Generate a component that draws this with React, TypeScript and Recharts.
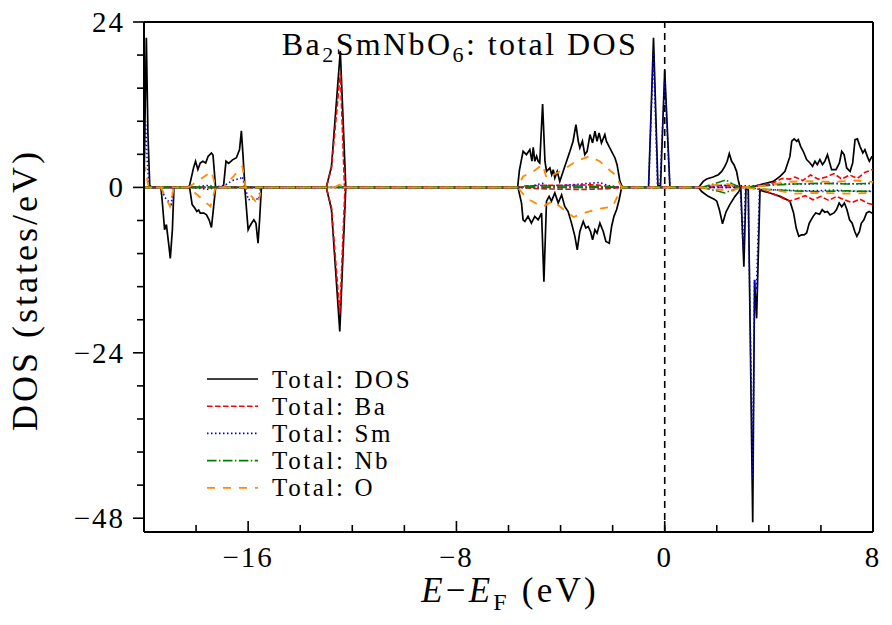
import React from "react";
import { LineChart, Line, XAxis, YAxis, ReferenceLine } from "recharts";

type Pt = [number, number];

// axis ticks
const xTicks = [-20, -18, -16, -14, -12, -10, -8, -6, -4, -2, 0, 2, 4, 6, 8];
const xMajor = [-16, -8, 0, 8];
const yTicks = [24, 19.2, 14.4, 9.6, 4.8, 0, -4.8, -9.6, -14.4, -19.2, -24, -28.8, -33.6, -38.4, -43.2, -48];
const yMajor = [24, 0, -24, -48];

// spin up / spin down DOS, [E - EF, states/eV]
const totalUp: Pt[] = [
  [-20, 0.5], [-19.96, 10], [-19.91, 21.7], [-19.85, 8], [-19.78, 0.3], [-19.7, 0],
  [-18.3, 0], [-18.25, 0.3], [-18.1, 2.8], [-18.02, 3.8], [-17.93, 2.6], [-17.84, 3.55], [-17.74, 3.8],
  [-17.63, 3.55], [-17.54, 4.5], [-17.41, 5.0], [-17.35, 4.7], [-17.25, 0],
  [-16.95, 0], [-16.85, 3.8], [-16.75, 3.5], [-16.6, 4.0], [-16.45, 4.3], [-16.33, 5.5], [-16.26, 8.2],
  [-16.2, 4.8], [-16.13, 0.5], [-16.08, 0],
  [-13.0, 0], [-12.8, 3.0], [-12.46, 19.8], [-12.25, 0],
  [-5.65, 0], [-5.58, 2.5], [-5.44, 5.24], [-5.31, 4.76], [-5.18, 5.48], [-5.1, 3.8], [-5.05, 5.82],
  [-4.99, 3.79], [-4.92, 4.52], [-4.86, 3.8], [-4.8, 3.55], [-4.69, 12.1], [-4.6, 3.8], [-4.54, 2.33],
  [-4.41, 2.82], [-4.34, 1.85], [-4.28, 2.57], [-4.22, 1.37], [-4.13, 2.33], [-4.03, 0.87], [-3.9, 2.33],
  [-3.77, 3.79], [-3.64, 5.24], [-3.52, 6.7], [-3.41, 9.1], [-3.32, 6.7], [-3.26, 5.73], [-3.16, 6.7],
  [-3.07, 4.76], [-2.98, 5.24], [-2.87, 7.66], [-2.77, 6.45], [-2.68, 8.15], [-2.6, 6.7], [-2.52, 7.9],
  [-2.43, 6.45], [-2.3, 7.66], [-2.24, 6.7], [-2.11, 5.73], [-1.91, 4.27], [-1.83, 3.3], [-1.72, 0.87],
  [-1.62, 0],
  [-0.62, 0], [-0.43, 21.7], [-0.26, 0.2], [-0.16, 0.3], [0.0, 17.0], [0.2, 0],
  [1.3, 0], [1.48, 0.87], [1.61, 1.22], [1.86, 1.5], [2.06, 1.84], [2.19, 2.33], [2.31, 3.05], [2.4, 3.79],
  [2.48, 4.9], [2.57, 3.79], [2.66, 3.3], [2.76, 2.33], [2.82, 1.12], [2.89, 0.05], [3.34, 0.05],
  [3.66, 0.39], [3.92, 0.63], [4.17, 0.87], [4.43, 1.6], [4.62, 2.33], [4.81, 4.5], [4.88, 6.7],
  [4.97, 7.04], [5.07, 6.7], [5.13, 6.94], [5.22, 5.96], [5.32, 5.24], [5.45, 4.03], [5.58, 3.55],
  [5.68, 3.05], [5.77, 3.79], [5.86, 3.3], [5.96, 4.03], [6.06, 3.3], [6.15, 3.79], [6.25, 4.76],
  [6.32, 3.79], [6.41, 2.57], [6.58, 2.57], [6.71, 3.55], [6.8, 5.24], [6.89, 4.76], [6.99, 2.82],
  [7.12, 2.33], [7.22, 3.55], [7.31, 6.94], [7.4, 7.04], [7.5, 5.96], [7.61, 5.0], [7.69, 5.48],
  [7.78, 4.5], [7.86, 3.79], [7.95, 4.42], [8.0, 4.4],
];

const totalDn: Pt[] = [
  [-20, 0], [-19.35, 0], [-19.3, -2], [-19.21, -6.15], [-19.14, -5.4], [-19.04, -8.6], [-18.99, -10.3],
  [-18.91, -6.15], [-18.85, 0],
  [-18.25, 0], [-18.15, -2.5], [-18.05, -3.0], [-17.97, -3.5], [-17.9, -3.3], [-17.84, -3.73], [-17.7, -3.73],
  [-17.6, -3.97], [-17.5, -4.7], [-17.41, -5.8], [-17.35, -3.7], [-17.25, 0],
  [-16.13, 0], [-16.0, -6.15], [-15.93, -5.6], [-15.87, -5.2], [-15.78, -4.7], [-15.7, -5.2], [-15.62, -8.1],
  [-15.56, -4.7], [-15.49, 0],
  [-13.0, 0], [-12.8, -3.2], [-12.48, -20.9], [-12.25, 0],
  [-5.65, 0], [-5.63, -0.1], [-5.5, -2.27], [-5.44, -4.7], [-5.37, -4.94], [-5.25, -4.2], [-5.12, -5.18],
  [-4.99, -4.2], [-4.86, -4.7], [-4.73, -3.73], [-4.64, -13.7], [-4.54, -2.0], [-4.44, -1.3], [-4.35, -2.0],
  [-4.22, -0.8], [-4.09, -2.27], [-3.96, -1.07], [-3.84, -2.76], [-3.71, -3.5], [-3.58, -5.18], [-3.45, -7.1],
  [-3.36, -9.06], [-3.26, -6.4], [-3.13, -4.94], [-3.03, -5.9], [-2.94, -5.67], [-2.85, -6.4], [-2.77, -7.6],
  [-2.68, -6.15], [-2.6, -6.64], [-2.49, -5.18], [-2.36, -6.4], [-2.26, -7.85], [-2.13, -8.1], [-2.04, -5.67],
  [-1.95, -4.2], [-1.85, -3.24], [-1.75, -1.79], [-1.66, -0.1], [-1.6, 0],
  [1.3, 0], [1.42, -0.6], [1.67, -1.3], [1.9, -1.7], [2.0, -2.0], [2.1, -3.24], [2.22, -5.28], [2.35, -3.6],
  [2.5, -2.5], [2.7, -1.3], [2.85, -0.58], [2.92, 0], [3.04, -11.5], [3.12, -0.3], [3.21, -0.2],
  [3.38, -48.6], [3.45, -13.4], [3.53, -19.0], [3.66, -0.4], [4.04, -0.82], [4.43, -1.3], [4.81, -2.0],
  [4.95, -3.7], [5.05, -5.9], [5.15, -7.1], [5.25, -6.9], [5.35, -6.9], [5.45, -6.6], [5.55, -5.2],
  [5.7, -4.2], [5.8, -3.7], [5.95, -3.9], [6.05, -3.24], [6.15, -3.6], [6.25, -3.5], [6.35, -4.0],
  [6.5, -3.7], [6.6, -3.2], [6.7, -2.27], [6.8, -2.8], [6.9, -2.27], [7.0, -3.24], [7.1, -4.7],
  [7.2, -5.2], [7.3, -6.4], [7.38, -7.1], [7.48, -6.4], [7.55, -5.2], [7.65, -4.7], [7.75, -3.73],
  [7.85, -3.5], [8.0, -3.8],
];

const baUp: Pt[] = [
  [-20, 0], [-13.0, 0], [-12.8, 2.8], [-12.46, 16.6], [-12.3, 0],
  [-5.6, 0], [-5.4, 0.2], [-4.7, 0.3], [-3.5, 0.3], [-2.7, 0.4], [-2.3, 0.2], [-1.7, 0],
  [1.4, 0], [2.0, 0.3], [2.8, 0.2], [3.2, 0], [3.8, 0.4], [4.2, 0.7], [4.5, 1.3], [4.8, 1.2], [5.0, 1.5],
  [5.3, 1.0], [5.6, 1.8], [5.9, 1.2], [6.2, 1.5], [6.5, 2.0], [6.8, 1.2], [7.1, 1.8], [7.4, 1.3],
  [7.7, 2.2], [8.0, 2.6],
];

const baDn: Pt[] = [
  [-20, 0], [-13.0, 0], [-12.8, -2.9], [-12.48, -18.3], [-12.28, 0],
  [-5.6, 0], [-4.8, -0.2], [-3.2, -0.3], [-2.2, -0.2], [-1.7, 0],
  [3.2, 0], [3.8, -0.4], [4.2, -1.0], [4.5, -1.5], [4.8, -2.0], [5.1, -1.6], [5.4, -1.2], [5.7, -1.8],
  [6.0, -1.3], [6.3, -1.9], [6.6, -1.3], [6.9, -1.8], [7.2, -2.2], [7.5, -1.7], [7.8, -2.3], [8.0, -2.5],
];

const smUp: Pt[] = [
  [-20, 2.0], [-19.94, 9.6], [-19.88, 4.0], [-19.8, 0],
  [-18.25, 0], [-17.5, 0.3], [-17.3, 0], [-16.9, 0.3], [-16.6, 1.0], [-16.3, 1.3], [-16.22, 1.6], [-16.13, 0],
  [-5.6, 0], [-5.0, 0.3], [-4.7, 0.6], [-4.5, 0.2], [-3.5, 0.4], [-2.9, 0.6], [-2.5, 0.7], [-2.2, 0.3], [-1.7, 0],
  [-0.62, 0], [-0.43, 19.8], [-0.28, 0.5], [-0.18, 0.5], [0.0, 15.4], [0.2, 0],
  [1.4, 0], [2.2, 0.3], [3.3, 0.2], [4.5, 0.5], [5.5, 0.5], [6.5, 0.6], [7.5, 0.5], [8.0, 0.6],
];

const smDn: Pt[] = [
  [-20, 0], [-19.35, 0], [-19.2, -1.45], [-18.95, -2.45], [-18.88, 0],
  [-18.2, 0], [-17.5, -0.3], [-17.3, 0],
  [-16.1, 0], [-16.0, -1.8], [-15.7, -1.6], [-15.6, -1.8], [-15.52, 0],
  [2.9, 0], [3.02, -9.3], [3.1, -0.3], [3.2, -0.2], [3.38, -42.2], [3.45, -13.4], [3.52, -14.9], [3.64, -0.3],
  [4.5, -0.4], [5.5, -0.5], [6.5, -0.4], [7.5, -0.6], [8.0, -0.5],
];

const nbUp: Pt[] = [
  [-20, 0], [-5.6, 0], [-4.8, 0.2], [-3.0, 0.2], [-1.7, 0],
  [1.4, 0], [1.8, 0.4], [2.2, 0.9], [2.35, 1.1], [2.6, 0.5], [2.9, 0],
  [4.0, 0.3], [5.0, 0.5], [6.0, 0.6], [7.0, 0.5], [8.0, 0.6],
];

const nbDn: Pt[] = [
  [-20, 0], [1.4, 0], [2.0, -0.5], [2.3, -0.8], [2.6, -0.4], [2.9, 0],
  [4.0, -0.3], [5.0, -0.5], [6.0, -0.6], [7.0, -0.5], [8.0, -0.6],
];

const oUp: Pt[] = [
  [-20, 0], [-19.95, 3.0], [-19.85, 0.5], [-19.78, 0],
  [-18.3, 0], [-17.4, 2.3], [-17.25, 0],
  [-16.95, 0], [-16.22, 3.05], [-16.1, 0],
  [-12.7, 0], [-12.5, 0.4], [-12.3, 0],
  [-5.65, 0], [-5.44, 1.6], [-5.05, 2.3], [-4.69, 3.3], [-4.54, 1.4], [-4.28, 1.8], [-3.8, 2.8],
  [-3.4, 3.8], [-2.9, 4.5], [-2.5, 3.8], [-2.2, 2.8], [-1.9, 1.8], [-1.65, 0],
  [1.4, 0], [1.8, 0.3], [2.4, 0.5], [2.9, 0],
  [4.0, 0.3], [4.6, 0.8], [5.5, 0.9], [6.5, 0.8], [7.3, 1.0], [8.0, 0.8],
];

const oDn: Pt[] = [
  [-20, 0], [-19.35, 0], [-19.0, -2.76], [-18.85, 0],
  [-18.28, 0], [-17.45, -2.76], [-17.25, 0],
  [-16.13, 0], [-15.62, -2.5], [-15.49, 0],
  [-12.7, 0], [-12.5, -0.3], [-12.3, 0],
  [-5.65, 0], [-5.3, -1.6], [-4.7, -2.8], [-4.3, -2.0], [-3.5, -4.3], [-3.0, -3.6], [-2.5, -3.1],
  [-2.0, -2.8], [-1.65, 0],
  [1.4, 0], [2.0, -0.3], [2.6, -0.5], [2.9, 0],
  [4.2, -0.4], [5.0, -0.9], [6.0, -0.8], [7.0, -0.9], [8.0, -0.8],
];

const seriesNames = ["Total: DOS", "Total: Ba", "Total: Sm", "Total: Nb", "Total: O"];

const FONT = "'Liberation Serif', 'Times New Roman', serif";
const W = 892;
const H = 625;
const PL = 144; // plot left
const PB = 532; // plot bottom

const styles = [
  { color: "#000000", dash: undefined as string | undefined, width: 1.7 },
  { color: "#ff0000", dash: "5.5 2.5", width: 1.6 },
  { color: "#0000ff", dash: "1.5 2.5", width: 1.6 },
  { color: "#008000", dash: "9.6 2.4 1.5 2.4", width: 1.6 },
  { color: "#ff8c00", dash: "8 8", width: 1.8 },
];

const seriesData: [Pt[], Pt[]][] = [
  [totalUp, totalDn],
  [baUp, baDn],
  [smUp, smDn],
  [nbUp, nbDn],
  [oUp, oDn],
];

const toRows = (pts: Pt[]) => pts.map(([x, y]) => ({ x, y }));

const fmt = (v: number) => (v < 0 ? `\u2212${Math.abs(v)}` : `${v}`);

const XTick = (props: any) => {
  const { x, payload } = props;
  const v = payload.value as number;
  const major = xMajor.includes(v);
  return (
    <g>
      <line x1={x} x2={x} y1={PB} y2={PB - (major ? 11 : 7)} stroke="#000" strokeWidth={1.6} />
      {major && (
        <text x={x} y={PB + 35} textAnchor="middle" fontFamily={FONT} fontSize={29} letterSpacing={2} fill="#000">
          {fmt(v)}
        </text>
      )}
    </g>
  );
};

const YTick = (props: any) => {
  const { y, payload } = props;
  const v = payload.value as number;
  const major = yMajor.includes(v);
  return (
    <g>
      <line x1={PL - (major ? 11 : 7)} x2={PL} y1={y} y2={y} stroke="#000" strokeWidth={1.6} />
      {major && (
        <text x={PL - 19} y={y} dy="0.34em" textAnchor="end" fontFamily={FONT} fontSize={29} letterSpacing={2} fill="#000">
          {fmt(v)}
        </text>
      )}
    </g>
  );
};

export default function App() {
  const legendTop = 379;
  const legendStep = 27.2;
  return (
    <div style={{ position: "absolute", left: 0, top: 0, width: W, height: H, background: "#fff" }}>
      <LineChart width={W} height={H} margin={{ top: 22, right: 19, bottom: 33, left: 44 }}>
        <XAxis
          dataKey="x"
          type="number"
          domain={[-20, 8]}
          ticks={xTicks}
          interval={0}
          height={60}
          tickLine={false}
          tick={<XTick />}
          axisLine={{ stroke: "#000", strokeWidth: 2 }}
          allowDataOverflow
        />
        <YAxis
          type="number"
          domain={[-50, 24]}
          ticks={yTicks}
          interval={0}
          width={100}
          tickLine={false}
          tick={<YTick />}
          axisLine={{ stroke: "#000", strokeWidth: 2 }}
          allowDataOverflow
        />
        <ReferenceLine y={24} stroke="#000" strokeWidth={2} />
        <ReferenceLine x={8} stroke="#000" strokeWidth={2} />
        <ReferenceLine x={0} stroke="#000" strokeWidth={1.6} strokeDasharray="7 5" />
        {seriesData.flatMap(([up, dn], i) =>
          [up, dn].map((pts, j) => (
            <Line
              key={`${i}-${j}`}
              data={toRows(pts)}
              dataKey="y"
              type="linear"
              stroke={styles[i].color}
              strokeWidth={styles[i].width}
              strokeDasharray={styles[i].dash}
              dot={false}
              activeDot={false}
              isAnimationActive={false}
            />
          ))
        )}
      </LineChart>
      <svg
        width={W}
        height={H}
        style={{ position: "absolute", left: 0, top: 0, pointerEvents: "none" }}
        fontFamily={FONT}
      >
        <text x={460} y={55} textAnchor="middle" fontSize={32} letterSpacing={2.4} fill="#000">
          Ba<tspan dy={7} fontSize={22}>2</tspan>
          <tspan dy={-7}>SmNbO</tspan>
          <tspan dy={7} fontSize={22}>6</tspan>
          <tspan dy={-7}>: total DOS</tspan>
        </text>
        {seriesNames.map((name, i) => {
          const y = legendTop + i * legendStep;
          return (
            <g key={name}>
              <line
                x1={207}
                x2={258}
                y1={y}
                y2={y}
                stroke={styles[i].color}
                strokeWidth={styles[i].width}
                strokeDasharray={styles[i].dash}
              />
              <text x={272} y={y} dy="0.34em" fontSize={25} letterSpacing={2.6} fill="#000">
                {name}
              </text>
            </g>
          );
        })}
        <text x={510} y={602} textAnchor="middle" fontSize={35} letterSpacing={3.2} fill="#000">
          <tspan fontStyle="italic">E</tspan>
          <tspan>{"\u2212"}</tspan>
          <tspan fontStyle="italic">E</tspan>
          <tspan dy={8} fontSize={24}>F</tspan>
          <tspan dy={-8}> (eV)</tspan>
        </text>
        <text
          x={0}
          y={0}
          transform="translate(37, 290) rotate(-90)"
          textAnchor="middle"
          fontSize={36}
          letterSpacing={3}
          fill="#000"
        >
          DOS (states/eV)
        </text>
      </svg>
    </div>
  );
}
